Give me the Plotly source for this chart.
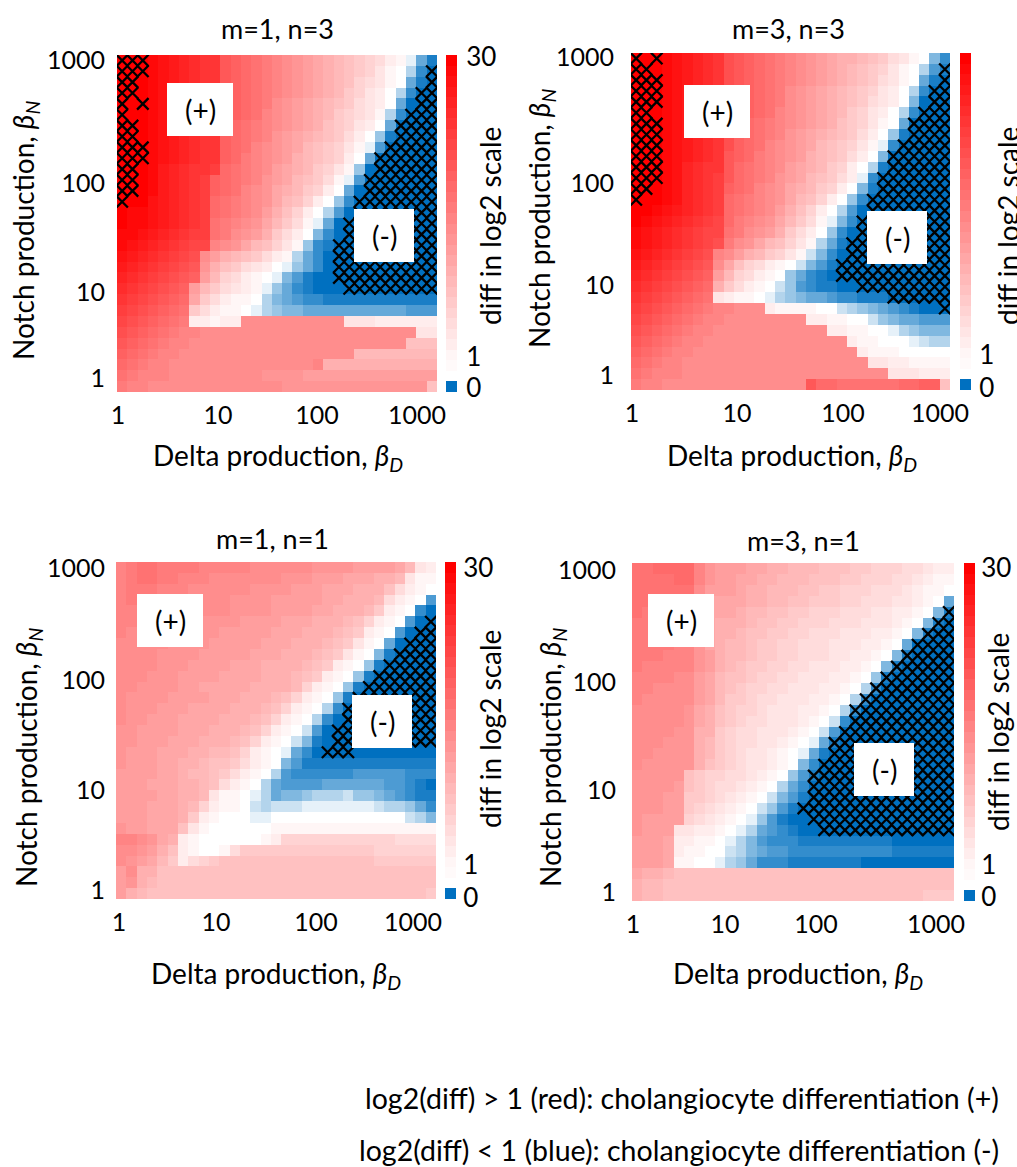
import plotly.graph_objects as go

W, H = 1017, 1167
FONT = "Lato, Carlito, 'Open Sans', sans-serif"
BLUE = "#0070C0"

# Cell codes: 1-9,a-u = log2(diff) 1..30 ; A..J = 0.0 .. 0.9 (blue side)
CODES = "0123456789abcdefghijklmnopqrstu"

ROWS_M1N3 = [
 "uuuts rqpoo kjihg fedcb a9876 532JE B",
 "uuuts rqpoo kjihg fedcb a9876 421HC A",
 "uuuts rqpoo kjihg fedcb a9865 421EB A",
 "uuuts rqpoo kjihg fedcb a9764 31HCA A",
 "uuuts rqpoo kjihg edcba 98754 31EAA A",
 "uuuts rqpoo kjihf edcba 97654 2HCAA A",
 "uuuts rqpoo jihgf edcba 87643 1EAAA A",
 "uuuts rqpoo jihgf dcba9 87531 GBAAA A",
 "uuuts rqpoo jihfe dcb98 7642J DAAAA A",
 "uuuts rqpoo jigfe dca98 7631E AAAAA A",
 "uuutr qpoon ihgfe cba97 642GA AAAAA A",
 "uuutr qponj ihgfd cb987 52JDA AAAAA A",
 "uuutr qponj ihfed ba976 31EAA AAAAA A",
 "uuusr qponi hgfed b9863 1GCAA AAAAA A",
 "uttsr qponi hgfec a8631 HDAAA AAAAA A",
 "uttsr qponh gfedb 9752J EAAAA AAAAA A",
 "ttsrq ponnh gedca 7531F CAAAA AAAAA A",
 "tsrqp onmmf edb98 642GC BAAAA AAAAA A",
 "srqpo nmlec a9875 32HEC AAAAA AAAAA A",
 "rqpon mlkda 87543 1JGEC AAAAA AAAAA A",
 "qponm lkjc9 65321 JFDBA AAAAA AAAAA A",
 "ponml kjc97 5432J GECBA AAAAA AAAAA A",
 "onmlk jib75 3221H FEDCC BBBBB BBBBB B",
 "nmlkj ih753 221JH GFFEE EEEEE EEEDD D",
 "mlkji hg332 33eee eeeee ee444 33333 3",
 "lkjih gffee eeeee eeeee eeeee eeee4 4",
 "kjihg ffeee eeeee eeeee eeeee eee88 8",
 "jihgf feeee eeeee eeeee eee99 99999 9",
 "ihgff eeeee eeeee eeeef aaaaa aaaaa a",
 "hgfff eeeee eeeed dddcc ccccc ccccc c",
 "gffee eeeee eeeee edddd ddddd ddddd 8",
]

ROWS_M3N3 = [
 "uuuts rqpol kjihg fedcb aa987 5421F C",
 "uuuts rqpol kjihg fedcb a9876 421HD B",
 "uuuts rqpol kjihg fedcb a9875 421EB A",
 "uuuts rqpol kjihg edcba 98764 31HCA A",
 "uuuts rqpol kjihg edcba 98754 31FAA A",
 "uuuts rqpol kjihf edcba 97643 1HCAA A",
 "uuuts rqpol jihgf edcba 87642 1EAAA A",
 "uuuts rqpol jihgf dcba9 87531 GBAAA A",
 "uuuts rqpol jihfe dcb98 7642J CAAAA A",
 "uuuts rqpok jigfe dca98 7531F AAAAA A",
 "uuuts qpook ihgfe cba97 631HB AAAAA A",
 "uuuts qponk ihgfd cb987 53JCA AAAAA A",
 "uuuts qponj ihfed ba976 31FBA AAAAA A",
 "uuuts qponi hgfed b9863 1GCAA AAAAA A",
 "uutsr qponi hgfec a8631 HDAAA AAAAA A",
 "utsrq ponmi gfedb 9752J FCAAA AAAAA A",
 "tsrqp onmmh gedca 7531G CAAAA AAAAA A",
 "tsrqp onmlg edb98 642HE BAAAA AAAAA A",
 "srqpo nmlfe ca976 42IFC AAAAA AAAAA A",
 "rqpon mlkeb 86532 1IFDB AAAAA AAAAA A",
 "qponm lkjc9 65321 GECBA AAAAA AAAAA A",
 "ponml kjia7 5321I GDCBB AAAAA AAAAA A",
 "onmlk jih43 221JH GFEED CCBBB AAAAA A",
 "nmlkj ihgff eee32 22211 IHGFE DCBAA A",
 "mlkji hgffe eeeee ee332 211IG FEEDD D",
 "lkjih gffee eeeee eeee3 32211 JHGFF F",
 "kjihg ffeee eeeee eeeee e3221 11JIH H",
 "jihgf feeee eeeee eeeee ee322 21111 1",
 "ihgff eeeee eeeee eeeee eee44 33222 2",
 "hgfff eeeee eeeee eeeee eeeee 44433 3",
 "gffee eeeee eeeee eekii hhhhh hiijj 8",
]

ROWS_M1N1 = [
 "fghhg gggff fffee eeeed dddcc ccb94 3",
 "fghhg gfffe eeeee edddc ccbbb aa942 2",
 "fgggf ffeee eeedd ddccc bbbaa a8532 1",
 "fgfff feeee edddd ccccc bbaaa 95321 D",
 "fffff eeeee edddd ccccb baaa9 7321C A",
 "fffee eeedd ddccc cbbba aa986 321DA A",
 "feeee edddd ccccc bbbaa a9873 21DAA A",
 "eeeee ddddc ccccb bbaaa 98742 1EAAA A",
 "eeeed dddcc cccbb baaa9 87421 FBAAA A",
 "eeeed ddccc cbbba aaa98 7321G BAAAA A",
 "eeedd dcccc bbbba aa987 321GB AAAAA A",
 "eeddd dccbb bbbaa aa963 21GBA AAAAA A",
 "edddd ccccb bbaaa 98632 1GBAA AAAAA A",
 "edddc ccbbb baaa9 86321 HCAAA AAAAA A",
 "eddcc cbbbb aaa98 6321H CAAAA AAAAA A",
 "ddccc cbbba aa986 321ID AAAAA AAAAA A",
 "ddccc bbbaa a9863 21IFB AAAAA AAAAA A",
 "dcccb bbaa9 98632 1JECA AAAAA AAAAA A",
 "dcccb baa98 87532 1FDBB BBBBB BBBBB B",
 "ccccb ba998 75321 HDCCC CCCDD DDDCC C",
 "cccbb baa98 5321H EDDDD EEEEE EDDCB A",
 "ccccb baa94 221JH EFFGH HHIGG FEDCB B",
 "cccbb ba963 221IH IIIJJ JJJJJ IHHGE C",
 "cccbb ba732 111JJ 11111 11111 111IH F",
 "dccbb b8421 11111 22222 22222 22222 2",
 "ffedb a3211 11112 36666 66666 66555 5",
 "eedca 83211 25777 77777 77777 66666 6",
 "edcb9 73567 88888 88888 88888 77777 7",
 "ceaa8 88888 88888 88888 88888 88888 8",
 "cda98 88888 88888 88888 88888 88888 8",
 "ca988 88888 88888 88888 88888 88888 7",
]

ROWS_M3N1 = [
 "hhiii ifdcc cbbaa 99988 87766 65543 3",
 "hhhhi ifdcc bbaa9 99888 77666 55432 2",
 "hhhhh heccc baa99 98877 66655 54322 1",
 "hhhhh gebbb baa99 88777 66555 44321 E",
 "hgggg gebbb a9988 77666 55544 3321F B",
 "ggggg fdbaa a9887 76665 55444 321FB A",
 "ggggg fdbaa 98877 66555 44433 21FBA A",
 "ggggf fdba9 98776 65554 44332 1EAAA A",
 "gggff fdca9 98776 65554 43321 FBAAA A",
 "gffff fdca9 87766 55444 3321F BAAAA A",
 "ffffe ecb98 87665 54443 321GB AAAAA A",
 "ffeee ecb98 76655 44433 21HCA AAAAA A",
 "feeee ecb97 76554 44332 1HCAA AAAAA A",
 "eeeee dba87 66544 43321 HCAAA AAAAA A",
 "eeeee dba87 65544 4321I CAAAA AAAAA A",
 "eeeed daa76 55444 321ID AAAAA AAAAA A",
 "eeedd da976 55443 21JEB AAAAA AAAAA A",
 "eeddd da976 54432 1JEBA AAAAA AAAAA A",
 "edddd da876 54432 1FCAA AAAAA AAAAA A",
 "ddddd 87665 54321 GDBAA AAAAA AAAAA A",
 "ddddc 87655 4321H ECAAA AAAAA AAAAA A",
 "dddcc 77654 321IF DBAAA AAAAA AAAAA A",
 "dddcc 76543 21IGD BAAAA AAAAA AAAAA A",
 "dcccc 65432 1JGDB AAAAA AAAAA AAAAA A",
 "dccc4 43321 JHEDC BAAAA AAAAA AAAAA A",
 "cccb3 3221J HFDCC CBBBB BBBBB AAAAA A",
 "cccb3 2211I HFEDD CCCCC CCCCC BBBBB B",
 "cccb2 211JH GECCC BBBBB BBAAA AAAAA A",
 "baa98 88888 88888 88888 88888 88888 8",
 "a9988 88888 88888 88888 88888 88888 8",
 "a9988 88888 88888 88888 88888 88877 7",
]

# Hatched cells: (row, first column, last column), row 0 on top
HATCH_M1N3 = [(0,0,2),(1,0,2),(2,0,1),(3,0,1),(4,0,0),(4,2,2),(5,0,0),(6,0,1),(7,0,1),(8,0,2),(9,0,2),
              (10,0,1),(11,0,1),(12,0,1),(13,0,0),
              (1,30,30),(2,30,30),(3,29,30),(4,29,30),(5,28,30),(6,27,30),(7,27,30),(8,26,30),(9,25,30),
              (10,25,30),(11,24,30),(12,24,30),(13,23,30),(14,23,30),(15,22,30),(16,22,30),(17,21,30),
              (18,21,30),(19,21,30),(20,21,30),(21,22,30)]
HATCH_M3N3 = [(0,0,0),(0,2,2),(1,0,1),(2,0,2),(3,0,2),(4,0,2),(5,0,1),(6,0,2),(7,0,2),(8,0,2),(9,0,2),(10,0,2),
              (11,0,2),(12,0,1),(13,0,0),
              (1,30,30),(2,30,30),(3,29,30),(4,29,30),(5,28,30),(6,27,30),(7,27,30),(8,26,30),(9,25,30),
              (10,25,30),(11,24,30),(12,24,30),(13,23,30),(14,23,30),(15,22,30),(16,22,30),(17,21,30),
              (18,21,30),(19,20,30),(20,20,30),(21,22,30),(22,25,30),(23,30,30)]
HATCH_M1N1 = [(5,30,30),(6,29,30),(7,28,30),(8,27,30),(9,26,30),(10,25,30),(11,24,30),(12,23,30),(13,22,30),
              (14,22,30),(15,21,30),(16,21,30),(17,20,22)]
HATCH_M3N1 = [(4,30,30),(5,29,30),(6,28,30),(7,27,30),(8,26,30),(9,25,30),(10,24,30),(11,23,30),(12,22,30),
              (13,21,30),(14,21,30),(15,20,30),(16,19,30),(17,19,30),(18,18,30),(19,17,30),(20,17,30),
              (21,17,30),(22,16,30),(23,17,30),(24,18,30)]

CBAR_VALUES = [0, None, 1.6] + list(range(2, 31))
TICK_TEXT = ["1", "10", "100", "1000"]
BAR_TEXT = ["0", "1", "30"]

PANELS = [
 dict(title="m=1, n=3", rows=ROWS_M1N3, hatch=HATCH_M1N3, box=(117,437,55,392), bar=(446,457),
      xt=(118,218,317,417), yt=(378,292,183,60), bart=(388,357,57), ylen=6, blen=3,
      tp=(277,28), xl=(278,457), yl=(25,231), bl=(490,226), plus=(167,233,83,136), minus=(354,414,209,262)),
 dict(title="m=3, n=3", rows=ROWS_M3N3, hatch=HATCH_M3N3, box=(631,950,53,390), bar=(960,971),
      xt=(632,737,843,940), yt=(375,285,183,57), bart=(388,355,52), ylen=11, blen=2,
      tp=(788,28), xl=(792,457), yl=(541,219), bl=(1008,226), plus=(684,750,85,138), minus=(867,927,211,264)),
 dict(title="m=1, n=1", rows=ROWS_M1N1, hatch=HATCH_M1N1, box=(116,436,562,899), bar=(445,456),
      xt=(119,216,316,413), yt=(890,790,680,568), bart=(898,865,568), ylen=5, blen=1,
      tp=(272,538), xl=(276,975), yl=(28,758), bl=(490,729), plus=(137,203,594,647), minus=(352,412,695,748)),
 dict(title="m=3, n=1", rows=ROWS_M3N1, hatch=HATCH_M3N1, box=(632,954,563,901), bar=(964,975),
      xt=(633,725,816,936), yt=(892,790,682,570), bart=(897,865,568), ylen=10, blen=0,
      tp=(803,540), xl=(798,975), yl=(552,758), bl=(998,732), plus=(648,714,594,647), minus=(854,914,743,796)),
]

def decode(row):
    s = row.replace(" ", "")
    s = (s + s[-1] * 31)[:31]
    return [(ord(c) - 65) / 10 if c.isupper() else CODES.index(c) for c in s]

fig = go.Figure()
annotations, shapes = [], []
layout = {}

def px_x(p): return p / W
def px_y(p): return 1 - p / H

# invisible full-page axes so that text positions do not push the margins
PAGE_X, PAGE_Y = "x99", "y99"

def note(text, x, y, size=28, angle=0, anchor="center"):
    annotations.append(dict(text=text, x=x, y=y, xref=PAGE_X, yref=PAGE_Y, showarrow=False,
                            textangle=angle, xanchor=anchor, yanchor="middle",
                            font=dict(family=FONT, size=size, color="#000")))

n_ax = 0
for p in PANELS:
    l, r, t, b = p["box"]
    n_ax += 1
    xa, ya = f"x{n_ax}", f"y{n_ax}"
    cw, ch = (r - l) / 31, (b - t) / 31
    idx = list(range(31))
    z = [decode(row) for row in p["rows"]][::-1]
    fig.add_trace(go.Heatmap(z=z, x=idx, y=idx, xaxis=xa, yaxis=ya, coloraxis="coloraxis", hoverongaps=False))
    hx, hy = [], []
    for row, c0, c1 in p["hatch"]:
        for c in range(c0, c1 + 1):
            hx.append(c); hy.append(30 - row)
    fig.add_trace(go.Scatter(x=hx, y=hy, xaxis=xa, yaxis=ya, mode="markers", showlegend=False,
                             marker=dict(symbol="x-thin", size=11.5, color="black", line=dict(color="black", width=2.3))))
    layout[f"xaxis{n_ax}"] = dict(domain=[px_x(l), px_x(r)], anchor=ya, range=[-0.5, 30.5], showgrid=False, zeroline=False,
        automargin=False, tickmode="array", tickvals=[(v - l) / cw - 0.5 for v in p["xt"]], ticktext=TICK_TEXT,
        ticks="outside", ticklen=1, tickcolor="rgba(0,0,0,0)", tickfont=dict(family=FONT, size=25, color="#000"))
    layout[f"yaxis{n_ax}"] = dict(domain=[px_y(b), px_y(t)], anchor=xa, range=[-0.5, 30.5], showgrid=False, zeroline=False,
        automargin=False, tickmode="array", tickvals=[(b - v) / ch - 0.5 for v in p["yt"]], ticktext=TICK_TEXT,
        ticks="outside", ticklen=p["ylen"], tickcolor="rgba(0,0,0,0)", tickfont=dict(family=FONT, size=25, color="#000"))

    n_ax += 1
    xb, yb = f"x{n_ax}", f"y{n_ax}"
    bl_, br_ = p["bar"]
    bh = (b - t) / 32
    fig.add_trace(go.Heatmap(z=[[v] for v in CBAR_VALUES], x=[0], y=list(range(32)), xaxis=xb, yaxis=yb,
                             coloraxis="coloraxis", hoverongaps=False))
    layout[f"xaxis{n_ax}"] = dict(domain=[px_x(bl_), px_x(br_)], anchor=yb, showticklabels=False, ticks="", showgrid=False,
                                  zeroline=False, automargin=False, range=[-0.5, 0.5])
    layout[f"yaxis{n_ax}"] = dict(domain=[px_y(b), px_y(t)], anchor=xb, side="right", range=[-0.5, 31.5], showgrid=False,
        automargin=False, zeroline=False, tickmode="array", tickvals=[(b - v) / bh - 0.5 for v in p["bart"]], ticktext=BAR_TEXT,
        ticks="outside", ticklen=p["blen"], tickcolor="rgba(0,0,0,0)", tickfont=dict(family=FONT, size=26, color="#000"))

    note(p["title"], *p["tp"], size=27)
    note("Delta production, <i>β<sub>D</sub></i>", *p["xl"], size=28)
    note("Notch production, <i>β<sub>N</sub></i>", *p["yl"], size=28, angle=-90)
    note("diff in log2 scale", *p["bl"], size=28, angle=-90)
    for key, label in (("plus", "(+)"), ("minus", "(-)")):
        x0, x1, y0, y1 = p[key]
        shapes.append(dict(type="rect", xref=PAGE_X, yref=PAGE_Y, x0=x0, x1=x1, y0=y0, y1=y1,
                           fillcolor="white", line=dict(width=0), layer="above"))
        note(label, (x0 + x1) / 2, (y0 + y1) / 2, size=28)

note("log2(diff) &gt; 1 (red): cholangiocyte differentiation (+)", 1001, 1098, size=28.5, anchor="right")
note("log2(diff) &lt; 1 (blue): cholangiocyte differentiation (-)", 1001, 1150, size=28.5, anchor="right")

# empty trace that keeps the full-page helper axes alive
fig.add_trace(go.Scatter(x=[], y=[], xaxis=PAGE_X, yaxis=PAGE_Y, mode="markers", showlegend=False))
layout["xaxis99"] = dict(domain=[0, 1], range=[0, W], anchor=PAGE_Y, visible=False, automargin=False)
layout["yaxis99"] = dict(domain=[0, 1], range=[H, 0], anchor=PAGE_X, visible=False, automargin=False)

fig.update_layout(width=W, height=H, margin=dict(l=0, r=0, t=0, b=0), paper_bgcolor="white", plot_bgcolor="rgba(0,0,0,0)",
                  showlegend=False, annotations=annotations, shapes=shapes,
                  coloraxis=dict(cmin=0, cmax=30, showscale=False,
                                 colorscale=[[0, BLUE], [1 / 30, "#FFFFFF"], [1, "#FF0000"]]),
                  **layout)
fig.write_html("out.html", config={"displayModeBar": False},
               post_script="document.body.style.margin='0';document.body.style.overflow='hidden';")
